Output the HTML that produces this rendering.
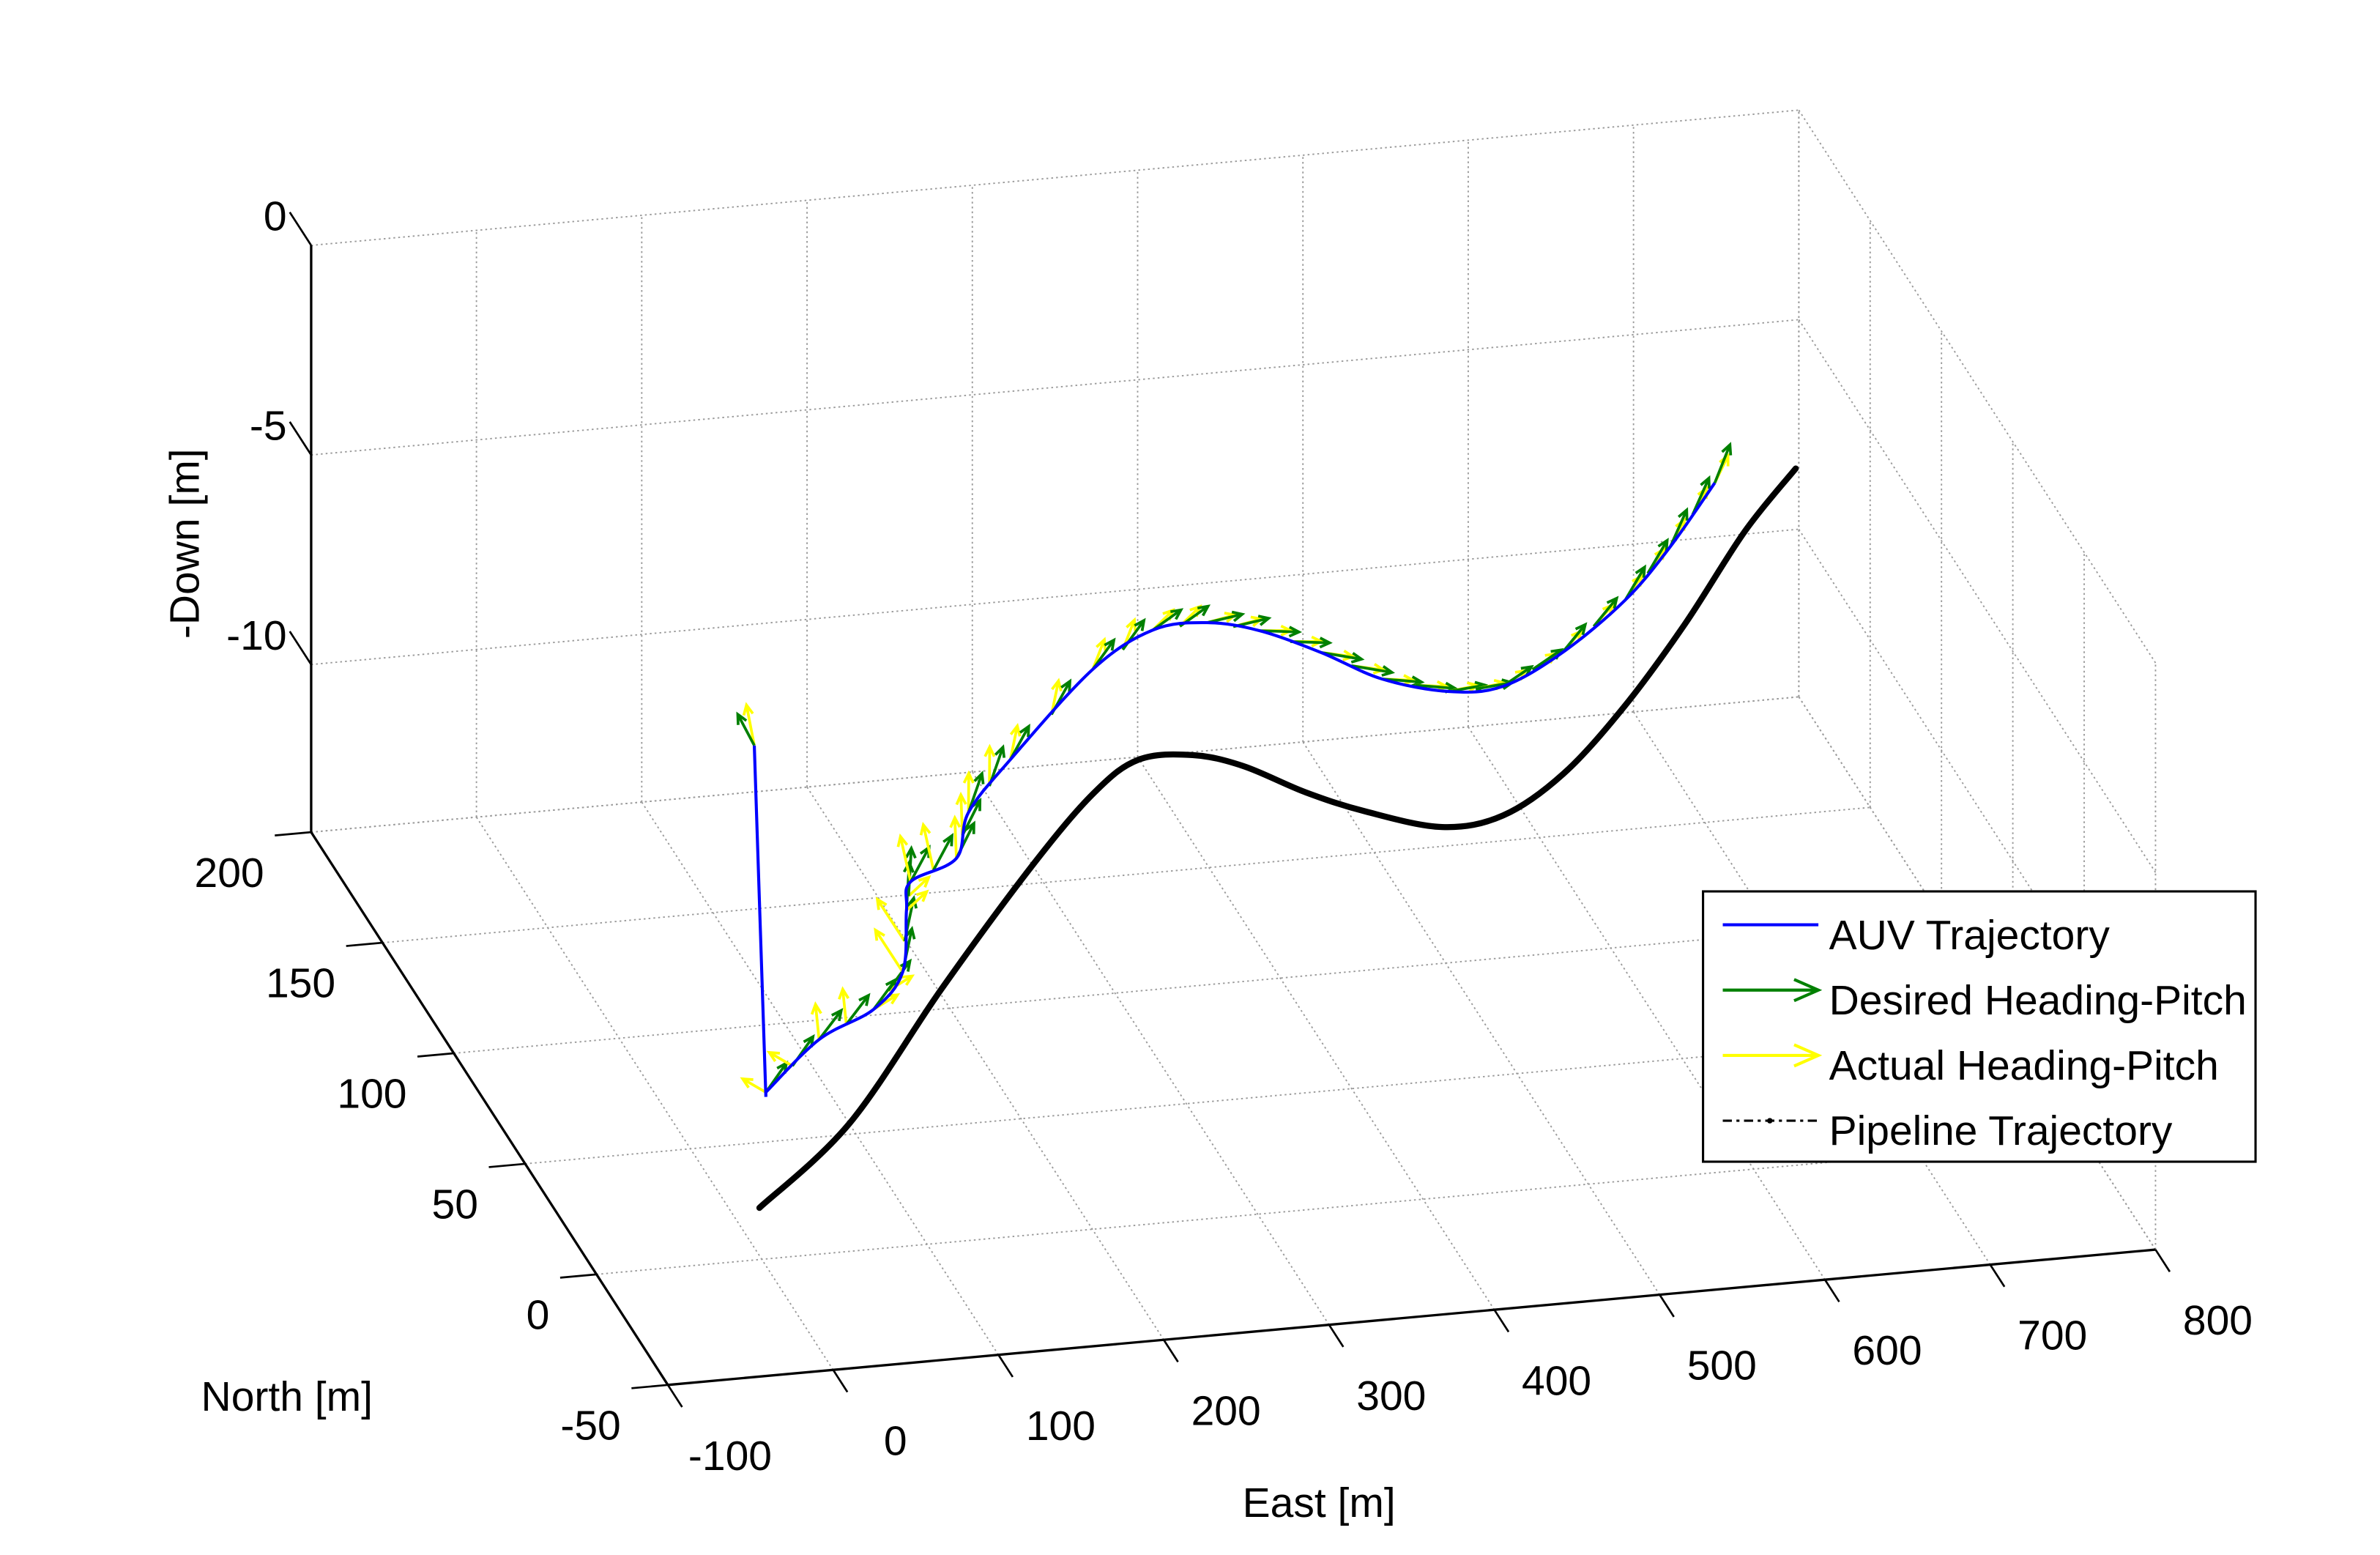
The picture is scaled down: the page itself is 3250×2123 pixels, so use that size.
<!DOCTYPE html>
<html>
<head>
<meta charset="utf-8">
<style>
html,body{margin:0;padding:0;background:#fff;}
svg{display:block;}
text{font-family:"Liberation Sans",Arial,sans-serif;fill:#000;}
</style>
</head>
<body>
<svg id="chart" width="3250" height="2123" viewBox="0 0 1568 1024" preserveAspectRatio="none" xmlns="http://www.w3.org/2000/svg">
  <rect x="0" y="0" width="1568" height="1024" fill="#fff"/>
  <g id="grid"></g>
  <g id="axes"></g>
  <g id="series"></g>
  <text x="131" y="358" font-size="27.5" text-anchor="middle" transform="rotate(-90 131 358)">-Down [m]</text>
  <text x="189" y="929" font-size="27.5" text-anchor="middle">North [m]</text>
  <text x="869" y="999" font-size="27.5" text-anchor="middle">East [m]</text>
  <g>
    <rect x="1122" y="587" width="364" height="178" fill="#fff" stroke="#000" stroke-width="1.5"/>
    <g>
      <line x1="1135" y1="609" x2="1198" y2="609" stroke="#0000ff" stroke-width="2"/>
      <text x="1205" y="625" font-size="27.5">AUV Trajectory</text>
    </g>
    <g>
      <line x1="1135" y1="652" x2="1198" y2="652" stroke="#008000" stroke-width="2"/>
      <polyline points="1182,645 1198,652 1182,659" fill="none" stroke="#008000" stroke-width="2"/>
      <text x="1205" y="668" font-size="27.5">Desired Heading-Pitch</text>
    </g>
    <g>
      <line x1="1135" y1="695" x2="1198" y2="695" stroke="#ffff00" stroke-width="2"/>
      <polyline points="1182,688 1198,695 1182,702" fill="none" stroke="#ffff00" stroke-width="2"/>
      <text x="1205" y="711" font-size="27.5">Actual Heading-Pitch</text>
    </g>
    <g>
      <line x1="1135" y1="738" x2="1198" y2="738" stroke="#000" stroke-width="1.5" stroke-dasharray="6,3,2,3"/>
      <circle cx="1166" cy="738" r="1.8" fill="#000"/>
      <text x="1205" y="754" font-size="27.5">Pipeline Trajectory</text>
    </g>
  </g>
</svg>
<script>
// ---- data ----
const xTicks = [-100, 0, 100, 200, 300, 400, 500, 600, 700, 800];
const yTicks = [-50, 0, 50, 100, 150, 200];
const zTicks = [-10, -5, 0];
const pipeEast  = [2, 78, 173, 262, 319, 354, 384, 407, 431, 456, 491, 527, 573, 628, 688, 751, 799];
const pipeNorth = [4, 29, 74, 114, 137, 146, 143, 134, 118, 105, 92, 91, 102, 123, 150, 181, 201];
const pipeDown  = [-12.99, -12.57, -12.05, -11.56, -11.25, -11.05, -10.89, -10.76, -10.63, -10.49, -10.3, -10.1, -9.85, -9.55, -9.22, -8.87, -8.6];
const auvEast  = [-8, -1, 45, 84, 112, 135, 147, 179, 201, 241, 315, 360, 391, 416, 441, 464, 495, 525, 568, 619, 661, 706];
const auvNorth = [-4, -4, 12, 19, 31, 55, 66, 71, 88, 105, 133, 143, 141, 133, 119, 103, 92, 89, 97, 112, 129, 150];
const auvDown  = [-1.5, -9.8, -9.55, -9.34, -9.18, -9.06, -9.0, -8.82, -8.7, -8.48, -8.07, -7.82, -7.65, -7.51, -7.38, -7.25, -7.08, -6.91, -6.68, -6.4, -6.17, -5.92];
const desiredPitch = [60, 20, 25, 25, 30, 30, 30, 28, 28, 25, 22, 20, 20, 20, 20, 20, 20, 22, 25, 28, 30, 32];
const actualHeadErr = [-90, 160, 40, -30, 70, -60, 50, 30, 20, 15, 10, 5, 0, 0, 0, 0, 0, 0, 0, 0, 0, 0];
const actualPitch = [70, 30, 10, 40, 20, 50, 35, 30, 28, 25, 25, 22, 22, 22, 22, 22, 22, 22, 22, 22, 22, 22];

// ---- projection ----
const X0 = -100, Y0 = -50, Z0 = -14;
function P(x, y, z) {
  const a = x - X0, b = y - Y0, c = z - Z0;
  return [440 + 1.089 * a - 0.94 * b, 912 - 0.099 * a - 1.456 * b - 27.6 * c];
}
const NS = 'http://www.w3.org/2000/svg';
function mk(tag, attrs, parent) {
  const el = document.createElementNS(NS, tag);
  for (const k in attrs) el.setAttribute(k, attrs[k]);
  parent.appendChild(el);
  return el;
}
function seg(p, q, parent, style) {
  return mk('line', Object.assign({x1: p[0], y1: p[1], x2: q[0], y2: q[1]}, style), parent);
}
const grid = document.getElementById('grid');
const axes = document.getElementById('axes');
const series = document.getElementById('series');
const gs = {stroke: '#9a9a9a', 'stroke-width': 0.9, 'stroke-dasharray': '1.2,2'};
const zAll = [-14].concat(zTicks);

xTicks.forEach(x => {
  const l = seg(P(x, -50, Z0), P(x, 200, Z0), grid, gs);
  
  
});
yTicks.forEach(y => {
  const l = seg(P(-100, y, Z0), P(800, y, Z0), grid, gs);
  
  
});
xTicks.forEach(x => {
  const l = seg(P(x, 200, Z0), P(x, 200, 0), grid, gs);
  
  
});
zAll.forEach(z => {
  const l = seg(P(-100, 200, z), P(800, 200, z), grid, gs);
  
  
});
yTicks.forEach(y => {
  const l = seg(P(800, y, Z0), P(800, y, 0), grid, gs);
  
  
});
zAll.forEach(z => {
  const l = seg(P(800, -50, z), P(800, 200, z), grid, gs);
  
  
});

const as = {stroke: '#000', 'stroke-width': 1.6};
let ax = seg(P(-100, -50, Z0), P(800, -50, Z0), axes, as);


ax = seg(P(-100, -50, Z0), P(-100, 200, Z0), axes, as);


ax = seg(P(-100, 200, Z0), P(-100, 200, 0), axes, as);



const ts = {stroke: '#000', 'stroke-width': 1.3};
xTicks.forEach(x => {
  const p = P(x, -50, Z0), q = P(x, -60, Z0);
  const t = seg(p, q, axes, ts);
  
  
  const lb = mk('text', {x: p[0] + 41, y: p[1] + 56, 'font-size': 27.5, 'text-anchor': 'middle'}, axes);
  lb.textContent = x;
  
  
});
yTicks.forEach(y => {
  const p = P(-100, y, Z0), q = P(-122, y, Z0);
  const t = seg(p, q, axes, ts);
  
  
  const lb = mk('text', {x: p[0] - 31, y: p[1] + 36, 'font-size': 27.5, 'text-anchor': 'end'}, axes);
  lb.textContent = y;
  
  
});
zTicks.forEach(z => {
  const p = P(-100, 200, z), q = P(-100, 215, z);
  const t = seg(p, q, axes, ts);
  
  
  const lb = mk('text', {x: q[0] - 2, y: q[1] + 12, 'font-size': 27.5, 'text-anchor': 'end'}, axes);
  lb.textContent = z;
  
  
});

function smoothPath(pts) {
  let d = 'M' + pts[0][0] + ',' + pts[0][1];
  for (let i = 0; i < pts.length - 1; i++) {
    const p0 = pts[Math.max(0, i - 1)], p1 = pts[i], p2 = pts[i + 1], p3 = pts[Math.min(pts.length - 1, i + 2)];
    const c1 = [p1[0] + (p2[0] - p0[0]) / 6, p1[1] + (p2[1] - p0[1]) / 6];
    const c2 = [p2[0] - (p3[0] - p1[0]) / 6, p2[1] - (p3[1] - p1[1]) / 6];
    d += 'C' + c1[0] + ',' + c1[1] + ' ' + c2[0] + ',' + c2[1] + ' ' + p2[0] + ',' + p2[1];
  }
  return d;
}
const pipePts = pipeEast.map((x, i) => P(x, pipeNorth[i], pipeDown[i]));
const pipe = mk('path', {d: smoothPath(pipePts), fill: 'none', stroke: '#000', 'stroke-width': 4, 'stroke-linecap': 'round', 'stroke-linejoin': 'round'}, series);



const auvPts = auvEast.map((x, i) => P(x, auvNorth[i], auvDown[i]));
const auvD = 'M' + auvPts[0][0] + ',' + auvPts[0][1] + ' L' + auvPts[1][0] + ',' + (auvPts[1][1] + 3) + ' ' + smoothPath(auvPts.slice(1)).replace('M', 'L');

function arrow(base, dir, len, pitch, color, name) {
  const dx = dir[0], dy = dir[1];
  const h = len * Math.cos(pitch * Math.PI / 180);
  const v = len * 0.045 * Math.sin(pitch * Math.PI / 180);
  const p = P(base[0], base[1], base[2]);
  const q = P(base[0] + dx * h, base[1] + dy * h, base[2] + v);
  const g = mk('g', {}, series);
  
  
  seg(p, q, g, {stroke: color, 'stroke-width': 1.8});
  const ang = Math.atan2(q[1] - p[1], q[0] - p[0]);
  const hl = Math.min(7, Math.hypot(q[0] - p[0], q[1] - p[1]) * 0.4);
  const a1 = [q[0] - hl * Math.cos(ang - 0.45), q[1] - hl * Math.sin(ang - 0.45)];
  const a2 = [q[0] - hl * Math.cos(ang + 0.45), q[1] - hl * Math.sin(ang + 0.45)];
  mk('polyline', {points: a1.join(',') + ' ' + q.join(',') + ' ' + a2.join(','), fill: 'none', stroke: color, 'stroke-width': 1.8}, g);
}
function tangent(i) {
  const a = Math.max(1, i - 1), b = Math.min(auvEast.length - 1, i + 1);
  let dx = auvEast[b] - auvEast[a], dy = auvNorth[b] - auvNorth[a];
  const n = Math.hypot(dx, dy) || 1;
  return [dx / n, dy / n];
}
function rot(d, deg) {
  const r = deg * Math.PI / 180;
  return [d[0] * Math.cos(r) - d[1] * Math.sin(r), d[0] * Math.sin(r) + d[1] * Math.cos(r)];
}
for (let i = 0; i < auvEast.length; i++) {
  const pts = [[auvEast[i], auvNorth[i], auvDown[i]]];
  if (i >= 1 && i < auvEast.length - 1) {
    pts.push([(auvEast[i] + auvEast[i + 1]) / 2, (auvNorth[i] + auvNorth[i + 1]) / 2, (auvDown[i] + auvDown[i + 1]) / 2]);
  }
  const t = i === 0 ? [-1, 0] : tangent(i);
  pts.forEach(b => {
    arrow(b, rot(t, actualHeadErr[i]), 16, actualPitch[i], '#ffff00', 'actual-heading-arrow');
    arrow(b, t, 20, desiredPitch[i], '#008000', 'desired-heading-arrow');
  });
}
const auv = mk('path', {d: auvD, fill: 'none', stroke: '#0000ff', 'stroke-width': 2}, series);


</script>
</body>
</html>
